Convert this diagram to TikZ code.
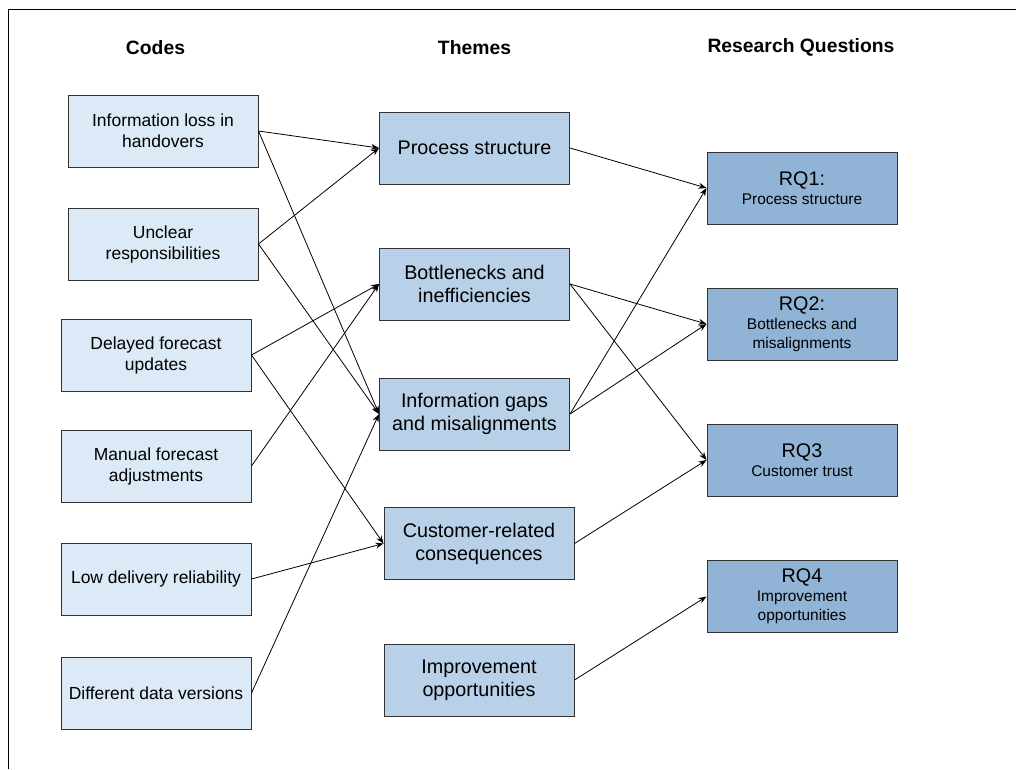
\documentclass[tikz,border=0pt]{standalone}
\usepackage{fontspec}
\setmainfont{Liberation Sans}
\usepackage{tikz}
\usetikzlibrary{arrows.meta}
\definecolor{codefill}{RGB}{220, 233, 246}
\definecolor{themefill}{RGB}{184, 208, 232}
\definecolor{rqfill}{RGB}{145, 180, 214}
\definecolor{boxline}{RGB}{50, 50, 50}
\newcommand{\rqsub}{\fontsize{11.6}{14.3}\selectfont}

\tikzset{
  box/.style={draw=boxline, line width=0.75pt, minimum width=142.5pt, minimum height=54pt, align=center, inner sep=2pt},
  codebox/.style={box, fill=codefill, font=\fontsize{13.1}{15.75}\selectfont},
  themebox/.style={box, fill=themefill, font=\fontsize{14.8}{17.3}\selectfont},
  rqbox/.style={box, fill=rqfill, font=\fontsize{14.8}{14.3}\selectfont},
  head/.style={font=\fontsize{14.5}{17}\selectfont\bfseries},
  link/.style={-{Stealth[length=6pt, width=4.5pt]}, line width=0.6pt},
}

\begin{document}
\begin{tikzpicture}[x=0.75pt, y=-0.75pt]
    \useasboundingbox (0,0) rectangle (1016,769);
    % Frame
    \draw[line width=1.2pt] (1016,9.5) -- (8.5,9.5) -- (8.5,769);

    % Headers
    \node[head] (hcodes) at (155.5,47.5) {Codes};
    \node[head] (hthemes) at (474.5,47.5) {Themes};
    \node[head] (hrq) at (801,47.5) {Research Questions};

    % Codes
    \node[codebox] (c1) at (163,131) {Information loss in\\handovers};
    \node[codebox] (c2) at (163,244) {Unclear\\responsibilities};
    \node[codebox] (c3) at (156,355) {Delayed forecast\\updates};
    \node[codebox] (c4) at (156,466) {Manual forecast\\adjustments};
    \node[codebox] (c5) at (156,579) {Low delivery reliability};
    \node[codebox] (c6) at (156,693) {Different data versions};

    % Themes
    \node[themebox] (t1) at (474.5,148) {Process structure};
    \node[themebox] (t2) at (474.5,284) {Bottlenecks and\\inefficiencies};
    \node[themebox] (t3) at (474.5,414) {Information gaps\\and misalignments};
    \node[themebox] (t4) at (479,543.5) {Customer-related\\consequences};
    \node[themebox] (t5) at (479,680) {Improvement\\opportunities};

    % Research questions
    \node[rqbox] (rq1) at (802,188) {RQ1:\\\rqsub Process structure};
    \node[rqbox] (rq2) at (802,324) {RQ2:\\\rqsub Bottlenecks and\\\rqsub misalignments};
    \node[rqbox] (rq3) at (802,460) {RQ3\\\rqsub Customer trust};
    \node[rqbox] (rq4) at (802,596.5) {RQ4\\\rqsub Improvement\\\rqsub opportunities};

    % Codes to themes
    \draw[link] (c1.east) -- (t1.west);
    \draw[link] (c1.east) -- (t3.west);
    \draw[link] (c2.east) -- (t1.west);
    \draw[link] (c2.east) -- (t3.west);
    \draw[link] (c3.east) -- (t2.west);
    \draw[link] (c3.east) -- (t4.west);
    \draw[link] (c4.east) -- (t2.west);
    \draw[link] (c5.east) -- (t4.west);
    \draw[link] (c6.east) -- (t3.west);

    % Themes to research questions
    \draw[link] (t1.east) -- (rq1.west);
    \draw[link] (t2.east) -- (rq2.west);
    \draw[link] (t2.east) -- (rq3.west);
    \draw[link] (t3.east) -- (rq1.west);
    \draw[link] (t3.east) -- (rq2.west);
    \draw[link] (t4.east) -- (rq3.west);
    \draw[link] (t5.east) -- (rq4.west);
\end{tikzpicture}
\end{document}
